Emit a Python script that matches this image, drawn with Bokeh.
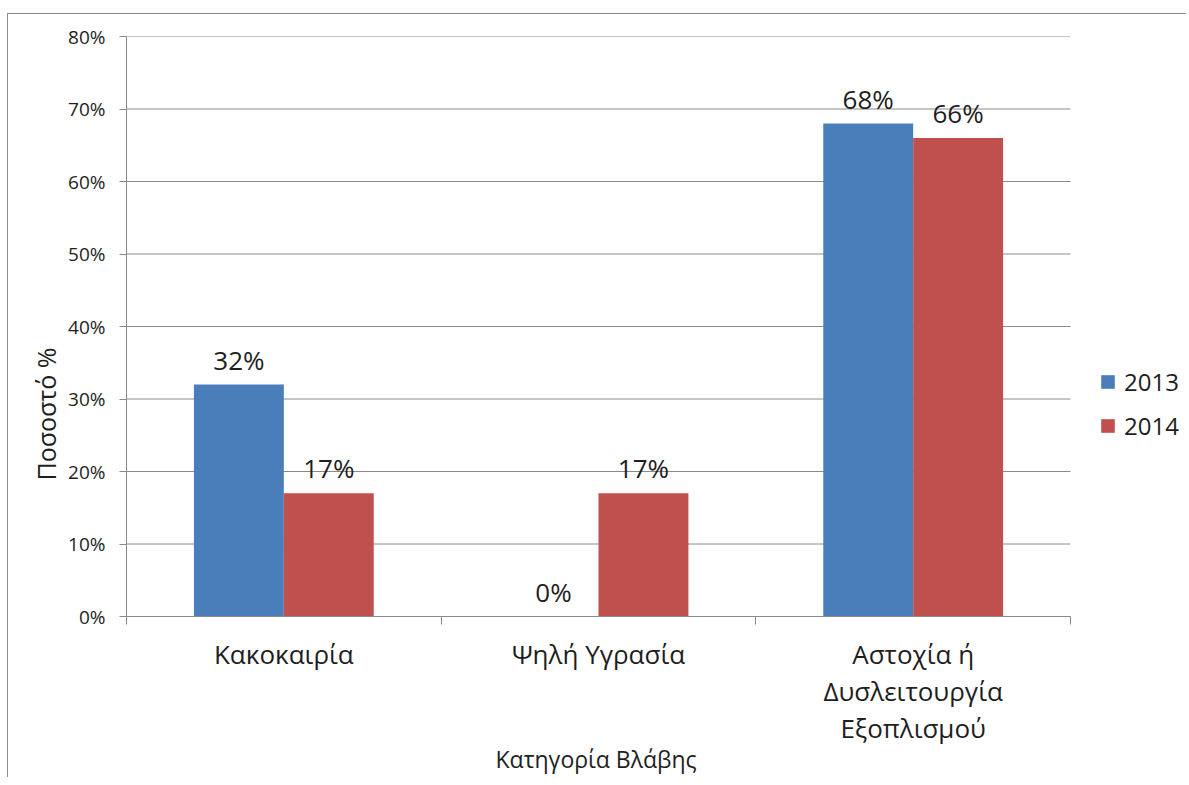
from bokeh.plotting import figure
from bokeh.models import (Range1d, FixedTicker, PrintfTickFormatter, Legend,
                          LegendItem, ColumnDataSource, Title)
from bokeh.core.properties import value
from bokeh.embed import file_html
from bokeh.resources import INLINE

categories = ["Κακοκαιρία", "Ψηλή Υγρασία", "Αστοχία ή\nΔυσλειτουργία\nΕξοπλισμού"]
series_names = ["2013", "2014"]
values_2013 = [32, 0, 68]
values_2014 = [17, 17, 66]
y_ticks = [0, 10, 20, 30, 40, 50, 60, 70, 80]

FONT = "Open Sans"
TEXT = "#1e1e1e"
GRID = "#8a8a8a"
BLUE = "#4a7ebb"
RED = "#c0504d"

# layout (pixels)
FIG_W, FIG_H = 1179, 764
B_LEFT, B_TOP, B_BOTTOM = 118, 22, 162
PLOT_W = 944                      # width of the category area
FRAME_W = FIG_W - B_LEFT          # frame reaches the right edge (legend lives inside)
n = len(categories)
x_end = n * FRAME_W / PLOT_W

p = figure(width=FIG_W, height=FIG_H, output_backend="svg", toolbar_location=None,
           x_range=Range1d(0, x_end), y_range=Range1d(0, 80),
           min_border_left=B_LEFT, min_border_right=0, min_border_top=B_TOP,
           min_border_bottom=B_BOTTOM, outline_line_color=None,
           styles={"border-top": "1px solid #8c8c8c", "border-left": "1px solid #8c8c8c"},
           margin=(13, 0, 0, 7))

# horizontal gridlines limited to the category area
p.segment(x0=[0] * len(y_ticks), x1=[n] * len(y_ticks), y0=y_ticks, y1=y_ticks,
          line_color=GRID, line_width=1, level="underlay")

bar_w = 0.2857
centers = [i + 0.5 for i in range(n)]
src13 = ColumnDataSource(dict(x=[c - bar_w / 2 for c in centers], top=values_2013,
                              lab=[f"{v}%" for v in values_2013]))
src14 = ColumnDataSource(dict(x=[c + bar_w / 2 for c in centers], top=values_2014,
                              lab=[f"{v}%" for v in values_2014]))

r13 = p.vbar(x="x", top="top", width=bar_w, bottom=0, source=src13,
             fill_color=BLUE, line_color=None)
r14 = p.vbar(x="x", top="top", width=bar_w, bottom=0, source=src14,
             fill_color=RED, line_color=None)

for src in (src13, src14):
    p.text(x="x", y="top", text="lab", source=src, text_align="center",
           text_baseline="alphabetic", y_offset=-25, text_font=value(FONT),
           text_font_size="26px", text_color=TEXT)

# x axis
xa = p.xaxis[0]
xa.bounds = (0, n)
xa.ticker = FixedTicker(ticks=centers, minor_ticks=list(range(n + 1)))
xa.major_label_overrides = {c: lab for c, lab in zip(centers, categories)}
xa.major_tick_out = 0
xa.major_tick_in = 0
xa.minor_tick_out = 8
xa.minor_tick_in = 0
xa.minor_tick_line_color = GRID
xa.axis_line_color = GRID
xa.major_label_text_font = FONT
xa.major_label_text_font_size = "26px"
xa.major_label_text_line_height = 1.04
xa.major_label_text_color = TEXT
xa.major_label_standoff = 11

xtitle = Title(text="Κατηγορία Βλάβης", align="left", offset=369, text_font=FONT,
               text_font_size="23px", text_font_style="normal", text_color=TEXT,
               standoff=-18)
p.add_layout(xtitle, "below")

# y axis
ya = p.yaxis[0]
ya.ticker = FixedTicker(ticks=y_ticks)
ya.formatter = PrintfTickFormatter(format="%d%%")
ya.major_tick_out = 7
ya.major_tick_in = 0
ya.minor_tick_out = 0
ya.minor_tick_in = 0
ya.major_tick_line_color = GRID
ya.axis_line_color = GRID
ya.major_label_text_font = FONT
ya.major_label_text_font_size = "19px"
ya.major_label_text_color = TEXT
ya.major_label_standoff = 14

ytitle = Title(text="Ποσοστό %", align="left", offset=136, text_font=FONT,
               text_font_size="25px", text_font_style="normal", text_color=TEXT,
               standoff=6)
p.add_layout(ytitle, "left")

p.xgrid.visible = False
p.ygrid.visible = False

legend = Legend(items=[LegendItem(label=series_names[0], renderers=[r13]),
                       LegendItem(label=series_names[1], renderers=[r14])],
                location=(973, 174), padding=0, margin=0,
                border_line_color=None, background_fill_alpha=0,
                glyph_width=17, glyph_height=17, label_height=24, spacing=11,
                label_standoff=8, label_text_font=FONT, label_text_font_size="24px",
                label_text_color=TEXT)
p.add_layout(legend, "center")

open("out.html", "w").write(file_html(p, INLINE))
